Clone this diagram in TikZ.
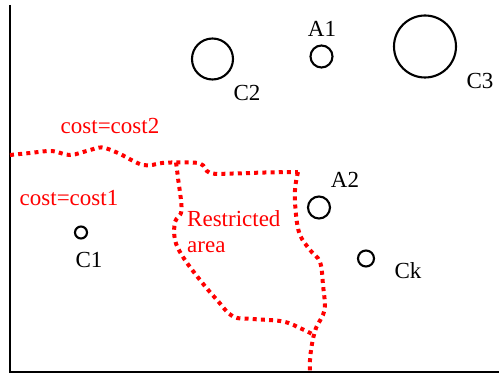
\documentclass[tikz,border=0pt]{standalone}
\usepackage{fontspec}
\setmainfont{Liberation Serif}
\begin{document}
\begin{tikzpicture}[x=1pt,y=-1pt,
  site/.style={draw=black,line width=2.1pt,circle,inner sep=0pt},
  lbl/.style={inner sep=0pt,font=\fontsize{23}{26}\selectfont},
  redlbl/.style={lbl,text=red},
  border/.style={red,line width=4pt,dash pattern=on 4pt off 4.2pt,line cap=butt}]
\useasboundingbox (0,0) rectangle (499,374);
% axes
\draw[line width=2.3pt] (10,5) -- (10,372) -- (499,372);
% cost boundary line
\draw[border] plot[smooth,tension=0.6] coordinates {(10,155) (30,153) (52,151) (70,155) (90,150) (102,147.5) (118,153) (143,165) (162,163) (176,162.5) (200,163.5) (210,173) (233,173.5) (265,172.5) (298,172)};
% restricted area, left and lower side
\draw[border] plot[smooth,tension=0.6] coordinates {(176,162.5) (178,178) (181.5,210) (175,222) (175,240) (183,257) (200,280) (217,300) (233,316.5) (253,319) (283,321.5) (302,329) (314,335)};
% restricted area, right side, running on down to the axis
\draw[border] plot[smooth,tension=0.6] coordinates {(298,172) (295,190) (296,215) (300,235) (310,250) (320,262) (323,285) (324.5,310) (316,328) (312,344) (310,360) (310,372)};
% sites
\node[site,minimum size=41pt] (C2) at (212.5,59) {};
\node[site,minimum size=22pt] (A1) at (321.5,56.5) {};
\node[site,minimum size=62pt] (C3) at (425,46.5) {};
\node[site,minimum size=22pt] (A2) at (319,207.5) {};
\node[site,minimum size=16pt] (Ck) at (366,258.5) {};
\node[site,minimum size=12pt] (C1) at (81,232.5) {};
% labels
\node[lbl] (lA1) at (322,29) {A1};
\node[lbl] (lC2) at (247,93) {C2};
\node[lbl] (lC3) at (480,81) {C3};
\node[lbl] (lA2) at (345,180) {A2};
\node[lbl] (lCk) at (408,271) {Ck};
\node[lbl] (lC1) at (89,260) {C1};
\node[redlbl] (cost2) at (110,126) {cost=cost2};
\node[redlbl] (cost1) at (69,198) {cost=cost1};
\node[redlbl,anchor=west,align=left] (restr) at (187,232) {Restricted\\area};
\end{tikzpicture}
\end{document}
